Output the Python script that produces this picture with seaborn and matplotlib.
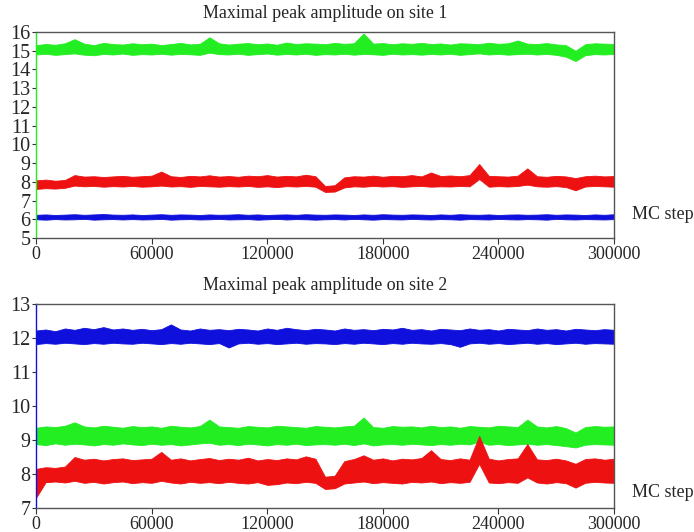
import matplotlib
matplotlib.use("Agg")
import matplotlib.pyplot as plt
import seaborn as sns
import pandas as pd

# ---------------- data ----------------
steps = list(range(0, 300001, 5000))          # MC step sample positions (61)

# Site 1 : band envelopes (low / high) of each trace
green1_hi = [15.30, 15.36, 15.32, 15.40, 15.62, 15.38, 15.30, 15.42, 15.36, 15.33,
             15.40, 15.35, 15.38, 15.30, 15.36, 15.42, 15.34, 15.37, 15.72, 15.40,
             15.33, 15.38, 15.41, 15.35, 15.39, 15.32, 15.44, 15.36, 15.40, 15.38,
             15.35, 15.42, 15.37, 15.40, 15.92, 15.38, 15.41, 15.35, 15.40, 15.37,
             15.42, 15.36, 15.39, 15.33, 15.40, 15.38, 15.35, 15.43, 15.37, 15.40,
             15.55, 15.38, 15.36, 15.41, 15.34, 15.30, 15.00, 15.35, 15.40, 15.38,
             15.36]
green1_lo = [14.80, 14.84, 14.78, 14.82, 14.86, 14.79, 14.76, 14.83, 14.80, 14.85,
             14.78, 14.82, 14.80, 14.84, 14.79, 14.83, 14.81, 14.78, 14.90, 14.82,
             14.80, 14.84, 14.78, 14.82, 14.85, 14.79, 14.83, 14.80, 14.84, 14.78,
             14.82, 14.80, 14.84, 14.79, 14.83, 14.81, 14.78, 14.84, 14.80, 14.82,
             14.79, 14.83, 14.80, 14.84, 14.78, 14.82, 14.86, 14.80, 14.83, 14.79,
             14.82, 14.84, 14.80, 14.83, 14.78, 14.68, 14.45, 14.76, 14.82, 14.80,
             14.83]
red1_hi = [8.08, 8.12, 8.06, 8.10, 8.36, 8.28, 8.30, 8.26, 8.29, 8.32,
           8.27, 8.30, 8.33, 8.55, 8.30, 8.26, 8.32, 8.29, 8.35, 8.28,
           8.31, 8.27, 8.33, 8.30, 8.36, 8.28, 8.32, 8.29, 8.38, 8.30,
           7.78, 7.82, 8.24, 8.30, 8.28, 8.33, 8.27, 8.32, 8.30, 8.36,
           8.29, 8.50, 8.31, 8.34, 8.30, 8.36, 8.95, 8.32, 8.30, 8.28,
           8.33, 8.72, 8.30, 8.27, 8.32, 8.29, 8.20, 8.30, 8.33, 8.29,
           8.31]
red1_lo = [7.62, 7.66, 7.64, 7.68, 7.80, 7.76, 7.78, 7.74, 7.77, 7.75,
           7.78, 7.74, 7.76, 7.80, 7.75, 7.77, 7.73, 7.78, 7.76, 7.74,
           7.77, 7.75, 7.78, 7.73, 7.76, 7.72, 7.77, 7.75, 7.78, 7.74,
           7.46, 7.48, 7.70, 7.76, 7.74, 7.78, 7.75, 7.77, 7.73, 7.76,
           7.78, 7.74, 7.76, 7.75, 7.78, 7.76, 8.15, 7.74, 7.77, 7.75,
           7.78, 7.85, 7.76, 7.74, 7.77, 7.72, 7.55, 7.75, 7.78, 7.76,
           7.74]
blue1_hi = [6.24, 6.26, 6.23, 6.25, 6.27, 6.24, 6.26, 6.28, 6.25, 6.24,
            6.26, 6.23, 6.25, 6.27, 6.24, 6.26, 6.25, 6.23, 6.26, 6.24,
            6.25, 6.27, 6.24, 6.26, 6.23, 6.25, 6.26, 6.24, 6.27, 6.25,
            6.24, 6.26, 6.25, 6.23, 6.26, 6.24, 6.27, 6.25, 6.24, 6.26,
            6.25, 6.23, 6.26, 6.24, 6.27, 6.25, 6.24, 6.26, 6.23, 6.25,
            6.26, 6.24, 6.25, 6.27, 6.24, 6.26, 6.25, 6.23, 6.26, 6.24,
            6.27]
blue1_lo = [6.00, 5.98, 6.01, 5.99, 6.00, 6.02, 5.98, 6.00, 6.01, 5.99,
            6.01, 5.99, 6.00, 6.02, 5.98, 6.00, 6.01, 5.99, 6.00, 6.02,
            5.99, 6.00, 6.01, 5.98, 6.00, 6.02, 5.99, 6.01, 6.00, 5.98,
            6.00, 6.01, 5.99, 6.02, 6.00, 5.98, 6.01, 6.00, 5.99, 6.02,
            6.00, 5.99, 6.01, 6.00, 5.98, 6.01, 6.00, 5.99, 6.02, 6.00,
            5.99, 6.01, 6.00, 5.98, 6.02, 6.00, 5.99, 6.01, 6.00, 5.99,
            6.01]

# Site 2
blue2_hi = [12.22, 12.25, 12.20, 12.28, 12.24, 12.30, 12.26, 12.32, 12.25, 12.28,
            12.24, 12.27, 12.23, 12.26, 12.40, 12.25, 12.22, 12.28, 12.24, 12.26,
            12.23, 12.27, 12.25, 12.22, 12.28, 12.24, 12.30, 12.26, 12.23, 12.27,
            12.25, 12.22, 12.28, 12.24, 12.26, 12.23, 12.27, 12.25, 12.30, 12.24,
            12.26, 12.22, 12.27, 12.25, 12.23, 12.28, 12.24, 12.26, 12.22, 12.27,
            12.25, 12.23, 12.28, 12.24, 12.26, 12.22, 12.27, 12.25, 12.23, 12.26,
            12.24]
blue2_lo = [11.82, 11.85, 11.83, 11.86, 11.84, 11.82, 11.85, 11.83, 11.86, 11.84,
            11.83, 11.86, 11.84, 11.82, 11.85, 11.83, 11.86, 11.84, 11.82, 11.85,
            11.72, 11.84, 11.86, 11.83, 11.85, 11.82, 11.84, 11.86, 11.83, 11.85,
            11.84, 11.82, 11.85, 11.83, 11.86, 11.84, 11.82, 11.85, 11.83, 11.86,
            11.84, 11.83, 11.85, 11.82, 11.74, 11.84, 11.86, 11.83, 11.85, 11.82,
            11.84, 11.86, 11.83, 11.85, 11.82, 11.84, 11.86, 11.83, 11.85, 11.84,
            11.83]
green2_hi = [9.36, 9.40, 9.38, 9.42, 9.52, 9.40, 9.37, 9.42, 9.39, 9.36,
             9.41, 9.38, 9.40, 9.36, 9.42, 9.39, 9.37, 9.41, 9.60, 9.40,
             9.38, 9.36, 9.41, 9.39, 9.37, 9.42, 9.40, 9.38, 9.36, 9.41,
             9.39, 9.37, 9.40, 9.42, 9.66, 9.38, 9.36, 9.41, 9.39, 9.40,
             9.37, 9.42, 9.38, 9.40, 9.36, 9.41, 9.39, 9.37, 9.42, 9.40,
             9.38, 9.60, 9.40, 9.37, 9.41, 9.35, 9.22, 9.38, 9.41, 9.39,
             9.40]
green2_lo = [8.88, 8.85, 8.90, 8.86, 8.89, 8.87, 8.84, 8.88, 8.86, 8.90,
             8.87, 8.85, 8.89, 8.86, 8.88, 8.84, 8.87, 8.90, 8.92, 8.86,
             8.88, 8.85, 8.89, 8.87, 8.84, 8.88, 8.86, 8.89, 8.85, 8.87,
             8.88, 8.86, 8.89, 8.85, 8.90, 8.84, 8.87, 8.88, 8.86, 8.89,
             8.87, 8.85, 8.88, 8.86, 8.89, 8.87, 8.95, 8.86, 8.88, 8.85,
             8.87, 8.89, 8.86, 8.88, 8.85, 8.82, 8.78, 8.86, 8.88, 8.87,
             8.86]
red2_hi = [8.15, 8.20, 8.18, 8.22, 8.50, 8.42, 8.45, 8.40, 8.44, 8.46,
           8.41, 8.43, 8.45, 8.65, 8.42, 8.46, 8.40, 8.44, 8.47, 8.41,
           8.45, 8.42, 8.48, 8.40, 8.44, 8.41, 8.46, 8.43, 8.52, 8.45,
           7.92, 7.95, 8.38, 8.44, 8.55, 8.42, 8.46, 8.40, 8.45, 8.43,
           8.47, 8.70, 8.44, 8.41, 8.46, 8.42, 9.12, 8.45, 8.40, 8.44,
           8.46, 8.88, 8.43, 8.41, 8.45, 8.40, 8.30, 8.44, 8.46, 8.42,
           8.45]
red2_lo = [7.30, 7.76, 7.78, 7.75, 7.80, 7.74, 7.77, 7.72, 7.76, 7.78,
           7.73, 7.76, 7.74, 7.80, 7.75, 7.72, 7.77, 7.74, 7.76, 7.73,
           7.77, 7.74, 7.72, 7.76, 7.68, 7.70, 7.75, 7.73, 7.77, 7.74,
           7.56, 7.58, 7.72, 7.75, 7.78, 7.73, 7.76, 7.74, 7.72, 7.77,
           7.75, 7.78, 7.73, 7.76, 7.74, 7.77, 8.30, 7.75, 7.73, 7.76,
           7.74, 7.90, 7.75, 7.72, 7.76, 7.73, 7.60, 7.74, 7.77, 7.75,
           7.74]

titles = ["Maximal peak amplitude on site 1", "Maximal peak amplitude on site 2"]
x_ticks = [0, 60000, 120000, 180000, 240000, 300000]
x_ticklabels = ["0", "60000", "120000", "180000", "240000", "300000"]
y_ticks_1 = [5, 6, 7, 8, 9, 10, 11, 12, 13, 14, 15, 16]
y_ticks_2 = [7, 8, 9, 10, 11, 12, 13]
xlabel_text = "MC step"

GREEN, RED, BLUE = "#22ee22", "#ee1111", "#1010dd"

# ---------------- style ----------------
sns.set_style("ticks")
plt.rcParams["font.family"] = ["Liberation Serif", "DejaVu Serif"]

fig = plt.figure(figsize=(6.94, 5.32), dpi=100)
ax1 = fig.add_axes([0.0519, 0.5526, 0.8329, 0.3872])
ax2 = fig.add_axes([0.0519, 0.0451, 0.8329, 0.3835])


def band(ax, lo, hi, color):
    df = pd.DataFrame({"step": steps + steps, "amp": lo + hi})
    sns.lineplot(data=df, x="step", y="amp", ax=ax, color=color,
                 estimator="mean", errorbar=("pi", 100), linewidth=0.6,
                 err_kws={"alpha": 1.0, "linewidth": 0.6, "edgecolor": color})


band(ax1, green1_lo, green1_hi, GREEN)
band(ax1, red1_lo, red1_hi, RED)
band(ax1, blue1_lo, blue1_hi, BLUE)

band(ax2, blue2_lo, blue2_hi, BLUE)
band(ax2, green2_lo, green2_hi, GREEN)
band(ax2, red2_lo, red2_hi, RED)

for ax, yt, title, ylab_y, lspine in [(ax1, y_ticks_1, titles[0], 0.112, GREEN),
                                      (ax2, y_ticks_2, titles[1], 0.078, BLUE)]:
    ax.set_xlim(0, 300000)
    ax.set_ylim(yt[0], yt[-1])
    ax.set_xticks(x_ticks)
    ax.set_xticklabels(x_ticklabels)
    ax.set_yticks(yt)
    ax.set_yticklabels([str(v) for v in yt])
    ax.set_xlabel("")
    ax.set_ylabel("")
    ax.tick_params(axis="x", direction="out", length=4, width=0.8,
                   labelsize=13, pad=2, color="#333333")
    ax.tick_params(axis="y", direction="out", length=3, width=0.8,
                   labelsize=14.5, pad=1, color="#333333")
    for s in ax.spines.values():
        s.set_color("#555555")
        s.set_linewidth(1.0)
        s.set_visible(True)
    ax.spines["left"].set_color(lspine)
    ax.set_title(title, fontsize=12.9, pad=10)
    ax.text(1.031, ylab_y, xlabel_text, transform=ax.transAxes,
            fontsize=13, ha="left", va="center")

fig.savefig("out.png", dpi=100)
